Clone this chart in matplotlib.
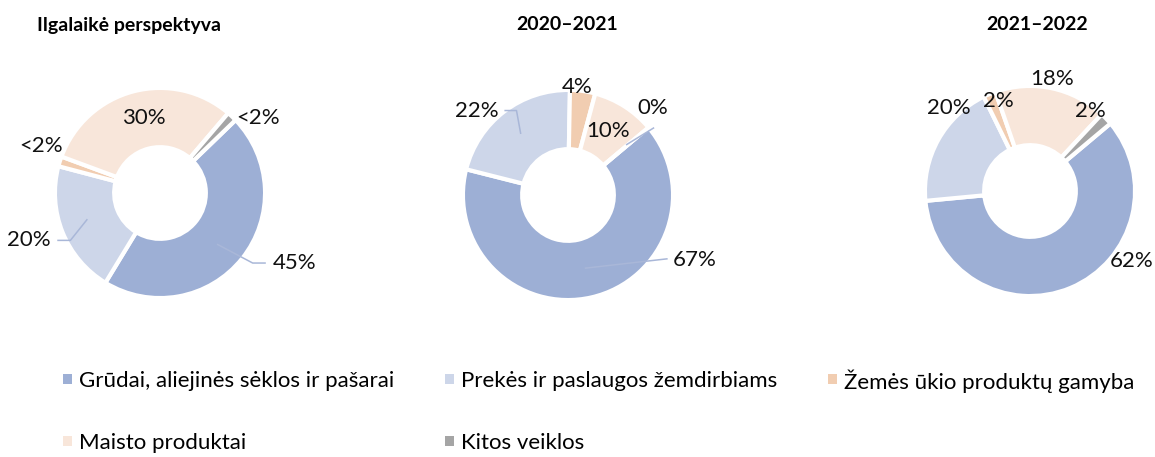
import matplotlib.pyplot as plt
from matplotlib.patches import Rectangle

plt.rcParams['font.family'] = ['Lato', 'DejaVu Sans']

# categories and colours (same order in every donut)
categories = ["Grūdai, aliejinės sėklos ir pašarai", "Prekės ir paslaugos žemdirbiams",
              "Žemės ūkio produktų gamyba", "Maisto produktai", "Kitos veiklos"]
colors = ['#9DAFD5', '#CDD6E9', '#F1CDB1', '#F8E6DA', '#A5A5A5']

titles = ["Ilgalaikė perspektyva", "2020–2021", "2021–2022"]

shares_long = [45, 20, 1.5, 30, 1.5]
shares_2021 = [67, 22, 4, 10, 0]
shares_2022 = [62, 20, 2, 18, 2]

labels_long = ["45%", "20%", "<2%", "30%", "<2%"]
labels_2021 = ["67%", "22%", "4%", "10%", "0%"]
labels_2022 = ["62%", "20%", "2%", "18%", "2%"]

W, H = 1155, 457
R = 103  # outer radius in px

# layout: donut centres (px), start angle, label spots and leader lines (in radius units)
centres = [(160, 193), (568, 195), (1030, 191)]
starts = [44, 40, 40]
label_pos = [
    [(1.31, -0.68), (-1.27, -0.46), (-1.15, 0.46), (-0.16, 0.73), (0.95, 0.73)],
    [(1.23, -0.63), (-0.89, 0.82), (0.09, 1.05), (0.39, 0.62), (0.82, 0.84)],
    [(0.99, -0.68), (-0.79, 0.81), (-0.31, 0.87), (0.21, 1.09), (0.59, 0.78)],
]
leaders = [
    [[(0.56, -0.50), (0.90, -0.68), (1.02, -0.68)],
     [(-0.71, -0.26), (-0.87, -0.46), (-0.99, -0.46)]],
    [[(0.17, -0.71), (0.96, -0.62)],
     [(-0.61, 0.82), (-0.50, 0.82), (-0.46, 0.60)],
     [(0.83, 0.65), (0.57, 0.49)]],
    [],
]
title_x = [129, 567, 1037]

fig = plt.figure(figsize=(W / 100, H / 100), dpi=100)

data = [shares_long, shares_2021, shares_2022]
texts = [labels_long, labels_2021, labels_2022]
span = 1.5
for i in range(3):
    cx, cy = centres[i]
    size = 2 * span * R
    ax = fig.add_axes([(cx - size / 2) / W, (H - cy - size / 2) / H, size / W, size / H])
    ax.pie(data[i], colors=colors, startangle=starts[i], counterclock=False, radius=1.02,
           wedgeprops=dict(width=0.575, edgecolor='white', linewidth=3))
    ax.set_xlim(-span, span)
    ax.set_ylim(-span, span)
    ax.set_aspect('equal')
    ax.axis('off')
    for t, (x, y) in zip(texts[i], label_pos[i]):
        ax.text(x, y, t, ha='center', va='center', fontsize=16, color='#111111')
    for pts in leaders[i]:
        ax.plot([p[0] for p in pts], [p[1] for p in pts], color='#A9B7D8', lw=1.1)
    fig.text(title_x[i] / W, 1 - 25 / H, titles[i], ha='center', va='center',
             fontsize=14, fontweight='bold')

# legend, laid out like the original (3 columns, 2 rows)
col_x = [63, 445, 828]
row_y = [379, 441]
for k, (name, c) in enumerate(zip(categories, colors)):
    x = col_x[k % 3]
    y = row_y[k // 3]
    fig.add_artist(Rectangle((x / W, (H - y - 5) / H), 9 / W, 10 / H,
                             transform=fig.transFigure, color=c, lw=0))
    fig.text((x + 16) / W, 1 - y / H, name, ha='left', va='center_baseline', fontsize=16)

fig.savefig('out.png', dpi=100)
